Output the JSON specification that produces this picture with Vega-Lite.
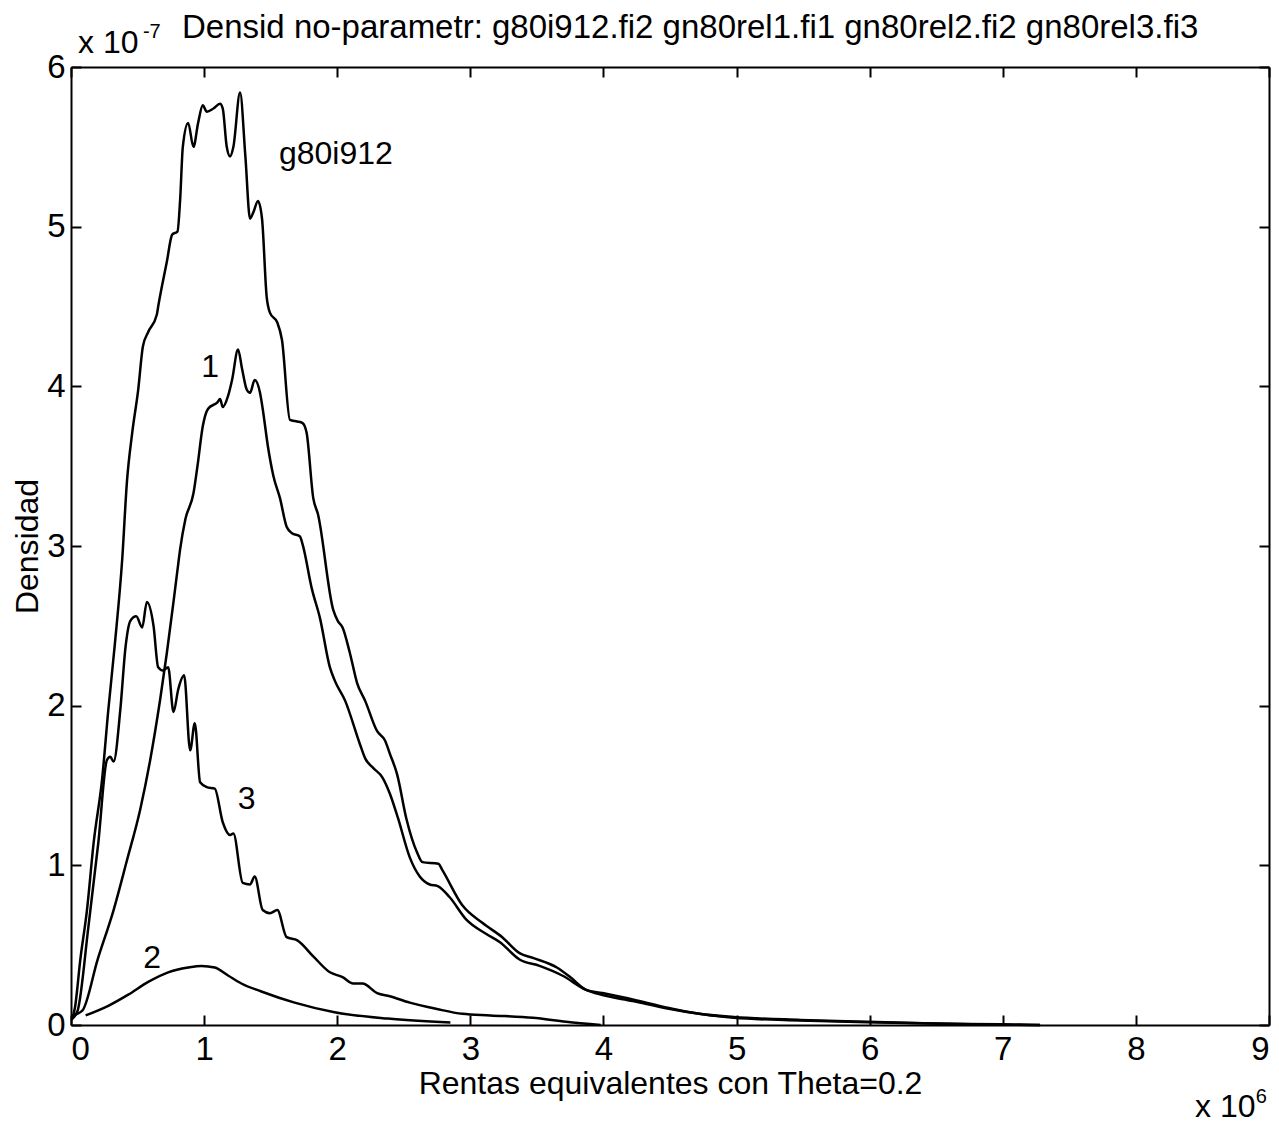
{
  "$schema": "https://vega.github.io/schema/vega-lite/v6.json",
  "width": 1198,
  "height": 958,
  "autosize": {"type": "none"},
  "padding": {"left": 71, "top": 67, "right": 10, "bottom": 99},
  "background": "white",
  "config": {
    "view": {"stroke": null},
    "font": "Liberation Sans",
    "axis": {"grid": false, "domainColor": "black", "domainWidth": 2, "tickColor": "black", "tickWidth": 2, "labelColor": "black", "titleColor": "black", "labelFont": "Liberation Sans", "titleFont": "Liberation Sans", "labelFontSize": 33, "titleFontSize": 32, "titleFontWeight": "normal"}
  },
  "title": {"text": "Densid no-parametr: g80i912.fi2 gn80rel1.fi1 gn80rel2.fi2 gn80rel3.fi3", "anchor": "start", "frame": "group", "dx": 111, "offset": -49, "baseline": "alphabetic", "fontSize": 33, "fontWeight": "normal", "font": "Liberation Sans", "color": "black"},
  "datasets": {
    "curves": [
      {"s":"g80i912","x":0.005,"y":0.03},{"s":"g80i912","x":0.03,"y":0.11},{"s":"g80i912","x":0.07,"y":0.41},{"s":"g80i912","x":0.12,"y":0.72},{"s":"g80i912","x":0.17,"y":1.14},{"s":"g80i912","x":0.235,"y":1.55},{"s":"g80i912","x":0.28,"y":1.97},{"s":"g80i912","x":0.33,"y":2.39},{"s":"g80i912","x":0.385,"y":2.92},{"s":"g80i912","x":0.42,"y":3.40},{"s":"g80i912","x":0.46,"y":3.71},{"s":"g80i912","x":0.505,"y":3.98},{"s":"g80i912","x":0.54,"y":4.25},{"s":"g80i912","x":0.58,"y":4.34},{"s":"g80i912","x":0.645,"y":4.45},{"s":"g80i912","x":0.655,"y":4.50},{"s":"g80i912","x":0.72,"y":4.78},{"s":"g80i912","x":0.76,"y":4.95},{"s":"g80i912","x":0.80,"y":4.97},{"s":"g80i912","x":0.82,"y":5.17},{"s":"g80i912","x":0.84,"y":5.50},{"s":"g80i912","x":0.88,"y":5.65},{"s":"g80i912","x":0.92,"y":5.50},{"s":"g80i912","x":0.955,"y":5.65},{"s":"g80i912","x":0.99,"y":5.76},{"s":"g80i912","x":1.02,"y":5.72},{"s":"g80i912","x":1.07,"y":5.74},{"s":"g80i912","x":1.12,"y":5.77},{"s":"g80i912","x":1.14,"y":5.74},{"s":"g80i912","x":1.17,"y":5.50},{"s":"g80i912","x":1.195,"y":5.44},{"s":"g80i912","x":1.22,"y":5.50},{"s":"g80i912","x":1.27,"y":5.84},{"s":"g80i912","x":1.31,"y":5.44},{"s":"g80i912","x":1.345,"y":5.05},{"s":"g80i912","x":1.37,"y":5.09},{"s":"g80i912","x":1.405,"y":5.16},{"s":"g80i912","x":1.435,"y":5.05},{"s":"g80i912","x":1.47,"y":4.56},{"s":"g80i912","x":1.495,"y":4.46},{"s":"g80i912","x":1.55,"y":4.40},{"s":"g80i912","x":1.585,"y":4.29},{"s":"g80i912","x":1.645,"y":3.79},{"s":"g80i912","x":1.70,"y":3.78},{"s":"g80i912","x":1.74,"y":3.77},{"s":"g80i912","x":1.77,"y":3.71},{"s":"g80i912","x":1.82,"y":3.30},{"s":"g80i912","x":1.855,"y":3.20},{"s":"g80i912","x":1.97,"y":2.60},{"s":"g80i912","x":2.005,"y":2.53},{"s":"g80i912","x":2.04,"y":2.49},{"s":"g80i912","x":2.095,"y":2.33},{"s":"g80i912","x":2.15,"y":2.14},{"s":"g80i912","x":2.21,"y":2.03},{"s":"g80i912","x":2.30,"y":1.84},{"s":"g80i912","x":2.36,"y":1.78},{"s":"g80i912","x":2.395,"y":1.70},{"s":"g80i912","x":2.45,"y":1.57},{"s":"g80i912","x":2.52,"y":1.29},{"s":"g80i912","x":2.60,"y":1.08},{"s":"g80i912","x":2.64,"y":1.02},{"s":"g80i912","x":2.76,"y":1.01},{"s":"g80i912","x":2.79,"y":0.97},{"s":"g80i912","x":2.94,"y":0.75},{"s":"g80i912","x":3.09,"y":0.64},{"s":"g80i912","x":3.24,"y":0.55},{"s":"g80i912","x":3.37,"y":0.45},{"s":"g80i912","x":3.47,"y":0.42},{"s":"g80i912","x":3.65,"y":0.36},{"s":"g80i912","x":3.75,"y":0.30},{"s":"g80i912","x":3.87,"y":0.22},{"s":"g80i912","x":3.99,"y":0.20},{"s":"g80i912","x":4.22,"y":0.16},{"s":"g80i912","x":4.47,"y":0.11},{"s":"g80i912","x":4.72,"y":0.07},{"s":"g80i912","x":4.98,"y":0.05},{"s":"g80i912","x":5.48,"y":0.032},{"s":"g80i912","x":5.98,"y":0.02},{"s":"g80i912","x":6.48,"y":0.01},{"s":"g80i912","x":6.98,"y":0.004},{"s":"g80i912","x":7.28,"y":0.0},
      {"s":"1","x":0.01,"y":0.06},{"s":"1","x":0.085,"y":0.09},{"s":"1","x":0.20,"y":0.41},{"s":"1","x":0.32,"y":0.72},{"s":"1","x":0.42,"y":1.03},{"s":"1","x":0.52,"y":1.35},{"s":"1","x":0.595,"y":1.66},{"s":"1","x":0.67,"y":2.04},{"s":"1","x":0.72,"y":2.33},{"s":"1","x":0.77,"y":2.65},{"s":"1","x":0.80,"y":2.85},{"s":"1","x":0.82,"y":2.98},{"s":"1","x":0.86,"y":3.17},{"s":"1","x":0.92,"y":3.33},{"s":"1","x":0.95,"y":3.50},{"s":"1","x":0.99,"y":3.75},{"s":"1","x":1.03,"y":3.86},{"s":"1","x":1.10,"y":3.90},{"s":"1","x":1.12,"y":3.92},{"s":"1","x":1.14,"y":3.87},{"s":"1","x":1.18,"y":3.94},{"s":"1","x":1.21,"y":4.04},{"s":"1","x":1.255,"y":4.23},{"s":"1","x":1.285,"y":4.11},{"s":"1","x":1.32,"y":3.98},{"s":"1","x":1.345,"y":3.96},{"s":"1","x":1.38,"y":4.04},{"s":"1","x":1.42,"y":3.96},{"s":"1","x":1.44,"y":3.86},{"s":"1","x":1.48,"y":3.62},{"s":"1","x":1.52,"y":3.44},{"s":"1","x":1.57,"y":3.30},{"s":"1","x":1.62,"y":3.12},{"s":"1","x":1.66,"y":3.08},{"s":"1","x":1.72,"y":3.06},{"s":"1","x":1.74,"y":3.01},{"s":"1","x":1.81,"y":2.73},{"s":"1","x":1.87,"y":2.55},{"s":"1","x":1.945,"y":2.24},{"s":"1","x":1.98,"y":2.16},{"s":"1","x":2.06,"y":2.03},{"s":"1","x":2.17,"y":1.76},{"s":"1","x":2.21,"y":1.67},{"s":"1","x":2.27,"y":1.61},{"s":"1","x":2.34,"y":1.55},{"s":"1","x":2.395,"y":1.45},{"s":"1","x":2.455,"y":1.30},{"s":"1","x":2.545,"y":1.05},{"s":"1","x":2.62,"y":0.93},{"s":"1","x":2.695,"y":0.88},{"s":"1","x":2.755,"y":0.87},{"s":"1","x":2.845,"y":0.80},{"s":"1","x":2.97,"y":0.66},{"s":"1","x":3.12,"y":0.57},{"s":"1","x":3.22,"y":0.52},{"s":"1","x":3.37,"y":0.41},{"s":"1","x":3.52,"y":0.37},{"s":"1","x":3.69,"y":0.31},{"s":"1","x":3.87,"y":0.22},{"s":"1","x":3.98,"y":0.19},{"s":"1","x":4.22,"y":0.15},{"s":"1","x":4.47,"y":0.105},{"s":"1","x":4.72,"y":0.07},{"s":"1","x":4.98,"y":0.045},{"s":"1","x":5.48,"y":0.028},{"s":"1","x":5.98,"y":0.018},{"s":"1","x":6.48,"y":0.009},{"s":"1","x":6.98,"y":0.003},{"s":"1","x":7.28,"y":0.0},
      {"s":"2","x":0.11,"y":0.06},{"s":"2","x":0.28,"y":0.12},{"s":"2","x":0.43,"y":0.19},{"s":"2","x":0.58,"y":0.27},{"s":"2","x":0.73,"y":0.33},{"s":"2","x":0.88,"y":0.36},{"s":"2","x":0.98,"y":0.37},{"s":"2","x":1.08,"y":0.36},{"s":"2","x":1.18,"y":0.31},{"s":"2","x":1.28,"y":0.26},{"s":"2","x":1.43,"y":0.21},{"s":"2","x":1.68,"y":0.14},{"s":"2","x":1.98,"y":0.08},{"s":"2","x":2.38,"y":0.04},{"s":"2","x":2.85,"y":0.015},
      {"s":"3","x":0.01,"y":0.04},{"s":"3","x":0.05,"y":0.09},{"s":"3","x":0.13,"y":0.61},{"s":"3","x":0.205,"y":1.14},{"s":"3","x":0.27,"y":1.66},{"s":"3","x":0.295,"y":1.68},{"s":"3","x":0.32,"y":1.65},{"s":"3","x":0.37,"y":1.97},{"s":"3","x":0.41,"y":2.37},{"s":"3","x":0.445,"y":2.53},{"s":"3","x":0.49,"y":2.56},{"s":"3","x":0.535,"y":2.49},{"s":"3","x":0.57,"y":2.65},{"s":"3","x":0.62,"y":2.50},{"s":"3","x":0.655,"y":2.24},{"s":"3","x":0.69,"y":2.22},{"s":"3","x":0.73,"y":2.24},{"s":"3","x":0.77,"y":1.96},{"s":"3","x":0.805,"y":2.10},{"s":"3","x":0.85,"y":2.19},{"s":"3","x":0.895,"y":1.72},{"s":"3","x":0.93,"y":1.89},{"s":"3","x":0.97,"y":1.52},{"s":"3","x":1.02,"y":1.49},{"s":"3","x":1.08,"y":1.48},{"s":"3","x":1.14,"y":1.27},{"s":"3","x":1.195,"y":1.19},{"s":"3","x":1.22,"y":1.20},{"s":"3","x":1.29,"y":0.89},{"s":"3","x":1.345,"y":0.88},{"s":"3","x":1.38,"y":0.93},{"s":"3","x":1.44,"y":0.72},{"s":"3","x":1.495,"y":0.70},{"s":"3","x":1.55,"y":0.72},{"s":"3","x":1.62,"y":0.55},{"s":"3","x":1.70,"y":0.53},{"s":"3","x":1.82,"y":0.43},{"s":"3","x":1.945,"y":0.33},{"s":"3","x":2.04,"y":0.30},{"s":"3","x":2.12,"y":0.26},{"s":"3","x":2.19,"y":0.26},{"s":"3","x":2.30,"y":0.20},{"s":"3","x":2.395,"y":0.18},{"s":"3","x":2.545,"y":0.14},{"s":"3","x":2.75,"y":0.10},{"s":"3","x":2.94,"y":0.07},{"s":"3","x":3.15,"y":0.06},{"s":"3","x":3.47,"y":0.045},{"s":"3","x":3.72,"y":0.02},{"s":"3","x":3.98,"y":0.0}
    ],
    "labels": [
      {"t":"g80i912","x":1.99,"y":5.39},
      {"t":"1","x":1.045,"y":4.06},
      {"t":"3","x":1.32,"y":1.35},
      {"t":"2","x":0.61,"y":0.36}
    ],
    "bases": [
      {"t":"x 10","x":0.053,"y":6.09},
      {"t":"x 10","x":8.445,"y":-0.577}
    ],
    "exps": [
      {"t":"-7","x":0.54,"y":6.18},
      {"t":"6","x":8.9,"y":-0.49}
    ]
  },
  "layer": [
    {
      "data": {"name": "curves"},
      "mark": {"type": "line", "color": "black", "strokeWidth": 2.5, "interpolate": "monotone"},
      "encoding": {
        "x": {"field": "x", "type": "quantitative", "scale": {"domain": [0, 9], "nice": false, "zero": false}, "axis": {"orient": "bottom", "values": [0,1,2,3,4,5,6,7,8,9], "tickSize": -10, "labelPadding": 18, "title": "Rentas equivalentes con Theta=0.2", "titlePadding": 2}},
        "y": {"field": "y", "type": "quantitative", "scale": {"domain": [0, 6], "nice": false, "zero": false}, "axis": {"orient": "left", "values": [0,1,2,3,4,5,6], "tickSize": -10, "labelPadding": 16, "title": "Densidad", "titlePadding": 2}},
        "detail": {"field": "s", "type": "nominal"}
      }
    },
    {
      "data": {"name": "curves"},
      "mark": {"type": "line", "opacity": 0},
      "encoding": {
        "x": {"field": "x", "type": "quantitative", "axis": {"orient": "top", "values": [0,1,2,3,4,5,6,7,8,9], "tickSize": -10, "labels": false, "title": null}},
        "y": {"field": "y", "type": "quantitative", "axis": {"orient": "right", "values": [0,1,2,3,4,5,6], "tickSize": -10, "labels": false, "title": null}},
        "detail": {"field": "s", "type": "nominal"}
      }
    },
    {
      "data": {"name": "labels"},
      "mark": {"type": "text", "fontSize": 32, "color": "black", "baseline": "alphabetic", "align": "center", "font": "Liberation Sans"},
      "encoding": {
        "x": {"field": "x", "type": "quantitative", "axis": null},
        "y": {"field": "y", "type": "quantitative", "axis": null},
        "text": {"field": "t"}
      }
    },
    {
      "data": {"name": "bases"},
      "mark": {"type": "text", "fontSize": 32, "color": "black", "baseline": "alphabetic", "align": "left", "font": "Liberation Sans"},
      "encoding": {
        "x": {"field": "x", "type": "quantitative", "axis": null},
        "y": {"field": "y", "type": "quantitative", "axis": null},
        "text": {"field": "t"}
      }
    },
    {
      "data": {"name": "exps"},
      "mark": {"type": "text", "fontSize": 20, "color": "black", "baseline": "alphabetic", "align": "left", "font": "Liberation Sans"},
      "encoding": {
        "x": {"field": "x", "type": "quantitative", "axis": null},
        "y": {"field": "y", "type": "quantitative", "axis": null},
        "text": {"field": "t"}
      }
    }
  ],
  "resolve": {"axis": {"x": "independent", "y": "independent"}}
}
